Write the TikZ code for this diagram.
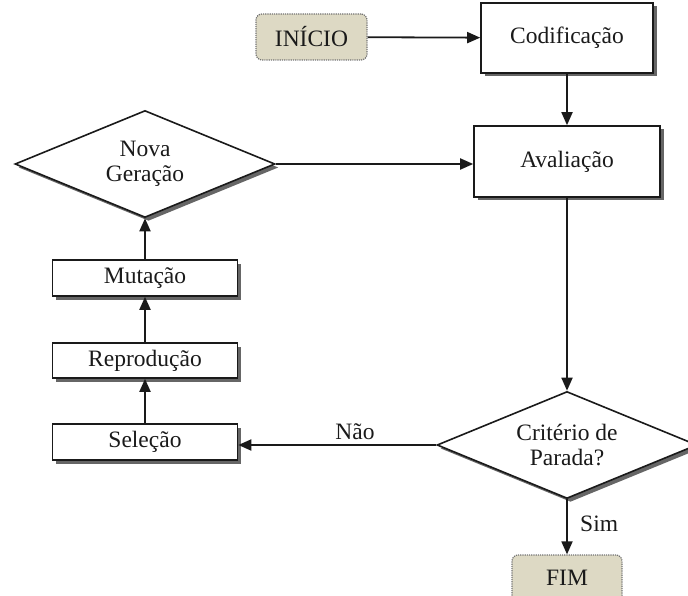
\documentclass[tikz,border=0pt]{standalone}
\usepackage{fontspec}
\setmainfont{Liberation Serif}
\usetikzlibrary{shapes.geometric,shadows,arrows.meta}
\definecolor{khaki}{HTML}{DDD9C4}
\definecolor{ink}{HTML}{1A1A1A}
\tikzset{
  every node/.style={font=\fontsize{23.5}{25}\selectfont, text=ink, align=center},
  shade3/.style={drop shadow={shadow xshift=3.5pt, shadow yshift=-3.5pt, fill=black!60, opacity=1}},
  procbox/.style={draw=ink, line width=1.6pt, fill=white, rectangle, inner sep=0pt, shade3},
  decision/.style={draw=ink, line width=1.6pt, fill=white, diamond, aspect=2.4, inner sep=0pt,
    minimum width=260pt, minimum height=107pt, shade3},
  terminal/.style={draw=black!55, densely dotted, line width=1.2pt, fill=khaki, rectangle,
    rounded corners=6pt, inner sep=0pt, minimum width=111pt, minimum height=46pt},
  flow/.style={draw=ink, line width=1.8pt, -{Triangle[length=13pt,width=11pt]}},
}
\begin{document}
\begin{tikzpicture}[x=1pt,y=-1pt]
\useasboundingbox (0,0) rectangle (688,596);

\node[terminal] (inicio) at (311.5,37) {INÍCIO};
\node[procbox, minimum width=172pt, minimum height=70pt] (cod) at (567,38) {Codificação};
\node[procbox, minimum width=186pt, minimum height=71pt] (aval) at (567,161.5) {Avaliação};
\node[decision] (nova) at (145,164) {Nova\\Geração};
\node[procbox, minimum width=185pt, minimum height=36pt] (mut) at (145,278) {Mutação};
\node[procbox, minimum width=185pt, minimum height=35pt] (rep) at (145,360.5) {Reprodução};
\node[procbox, minimum width=185pt, minimum height=36pt] (sel) at (145,442) {Seleção};
\node[decision] (crit) at (567,445) {Critério de\\Parada?};
\node[terminal, minimum width=110pt] (fim) at (567,578) {FIM};

\draw[flow] (inicio) -- (cod);
\draw[flow] (cod) -- (aval);
\draw[flow] (nova.east) -- (nova.east -| aval.west);
\draw[flow] (aval) -- (crit);
\draw[flow] (crit.west) -- node[above, pos=0.41, yshift=1pt] (nao) {Não} (crit.west -| sel.east);
\draw[flow] (sel) -- (rep);
\draw[flow] (rep) -- (mut);
\draw[flow] (mut) -- (nova);
\draw[flow] (crit) -- node[right, xshift=9pt, pos=0.45] (sim) {Sim} (fim);
\end{tikzpicture}
\end{document}
